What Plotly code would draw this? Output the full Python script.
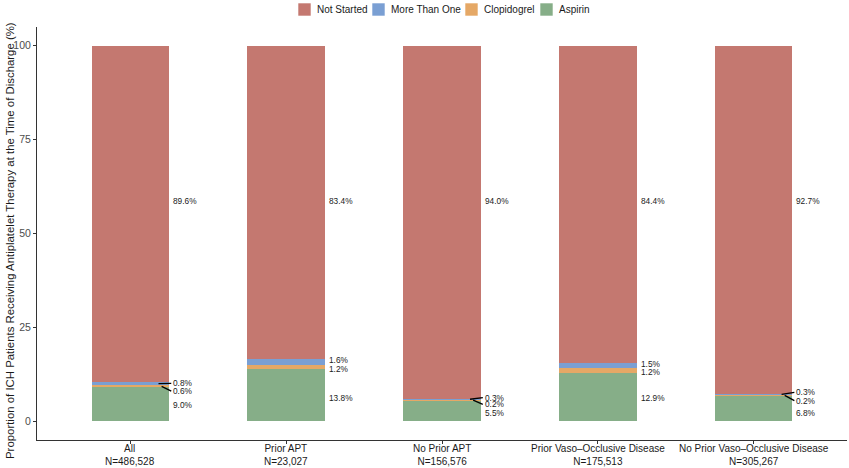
import plotly.graph_objects as go

categories = ["All<br>N=486,528", "Prior APT<br>N=23,027", "No Prior APT<br>N=156,576",
              "Prior Vaso\u2013Occlusive Disease<br>N=175,513", "No Prior Vaso\u2013Occlusive Disease<br>N=305,267"]
aspirin = [9.0, 13.8, 5.5, 12.9, 6.8]
clopidogrel = [0.6, 1.2, 0.2, 1.2, 0.2]
more_than_one = [0.8, 1.6, 0.3, 1.5, 0.3]
not_started = [89.6, 83.4, 94.0, 84.4, 92.7]
y_ticks = [0, 25, 50, 75, 100]
legend_order = ["Not Started", "More Than One", "Clopidogrel", "Aspirin"]

# label placement (repelled positions, data units)
lab_y_aspirin = [4.3, 6.1, 2.3, 6.1, 2.1]
lab_y_clop = [8.0, 13.8, 4.5, 13.0, 5.5]
lab_y_more = [10.1, 16.2, 6.3, 15.2, 7.7]
lab_y_not = [58.6, 58.6, 58.6, 58.6, 58.6]
leader = [True, False, True, False, True]

colors = {"Not Started": "#C47870", "More Than One": "#7A9FD3", "Clopidogrel": "#E5A866", "Aspirin": "#86AE88"}
xs = list(range(1, len(categories) + 1))
W = 0.5

# plot area in pixels
L, R, T, B = 37, 847, 27, 440
PW, PH = R - L, B - T
def px(x):
    return (x - L) / PW
def py(y):
    return (B - y) / PH

fig = go.Figure()
series = [("Aspirin", aspirin), ("Clopidogrel", clopidogrel), ("More Than One", more_than_one), ("Not Started", not_started)]
for name, vals in series:
    fig.add_trace(go.Bar(x=xs, y=vals, name=name, width=W, marker=dict(color=colors[name], line=dict(width=0)),
                         hoverinfo="y+name", showlegend=False))

font = "Liberation Sans, Arial, Helvetica, sans-serif"
ann = []
shapes = []
for i, x in enumerate(xs):
    right = x + W / 2
    tx = right + 0.012
    for vals, ly in [(aspirin, lab_y_aspirin), (clopidogrel, lab_y_clop), (more_than_one, lab_y_more), (not_started, lab_y_not)]:
        ann.append(dict(x=tx, y=ly[i], text=f"{vals[i]:.1f}%", xanchor="left", yanchor="middle", showarrow=False,
                        font=dict(size=8.3, color="#1a1a1a", family=font)))
    if leader[i]:
        mid_clop = aspirin[i] + clopidogrel[i] / 2
        mid_more = aspirin[i] + clopidogrel[i] + more_than_one[i] / 2
        shapes.append(dict(type="line", xref="x", yref="y", x0=right - 0.07, y0=mid_more, x1=tx, y1=lab_y_more[i],
                           line=dict(color="black", width=1.3)))
        shapes.append(dict(type="line", xref="x", yref="y", x0=right - 0.05, y0=mid_clop, x1=tx, y1=lab_y_clop[i],
                           line=dict(color="black", width=1.3)))
    # category tick label (two lines)
    ann.append(dict(x=x, xref="x", yref="paper", y=py(441), text=categories[i], xanchor="center", yanchor="top",
                    showarrow=False, font=dict(size=10, color="#1a1a1a", family=font)))

# manual legend (top centre)
leg_x = [298, 372, 465, 540]
for name, lx in zip(legend_order, leg_x):
    shapes.append(dict(type="rect", xref="paper", yref="paper", x0=px(lx), x1=px(lx + 13), y0=py(16), y1=py(3),
                       fillcolor=colors[name], line=dict(width=0.6, color="white")))
    ann.append(dict(xref="paper", yref="paper", x=px(lx + 17), y=py(9.5), text=name, xanchor="left", yanchor="middle",
                    showarrow=False, font=dict(size=10, color="#1a1a1a", family=font)))

ann.append(dict(xref="paper", yref="paper", x=px(10), y=py(241), xanchor="center", yanchor="middle",
                text="Proportion of ICH Patients Receiving Antiplatelet Therapy at the Time of Discharge (%)",
                textangle=-90, showarrow=False, font=dict(size=11.4, color="#1a1a1a", family=font)))

fig.update_layout(
    barmode="stack",
    width=849, height=468,
    margin=dict(l=L, r=849 - R, t=T, b=468 - B, autoexpand=False),
    plot_bgcolor="white", paper_bgcolor="white",
    font=dict(family=font, size=11, color="#4d4d4d"),
    showlegend=False,
    annotations=ann,
    shapes=shapes,
    xaxis=dict(range=[0.4, 5.6], tickvals=xs, showticklabels=False, showline=True, linecolor="#333333", linewidth=1,
               ticks="outside", ticklen=3, tickcolor="#333333", showgrid=False, zeroline=False,
               automargin=False),
    yaxis=dict(range=[-5, 105], tickvals=y_ticks, showline=True, linecolor="#333333", linewidth=1,
               ticks="outside", ticklen=3, tickcolor="#333333", showgrid=False, zeroline=False,
               automargin=False, tickfont=dict(size=10.5, color="#4d4d4d")),
    bargap=0,
)
fig.write_html("out.html", config={"displayModeBar": False}, post_script="document.body.style.margin='0';")
